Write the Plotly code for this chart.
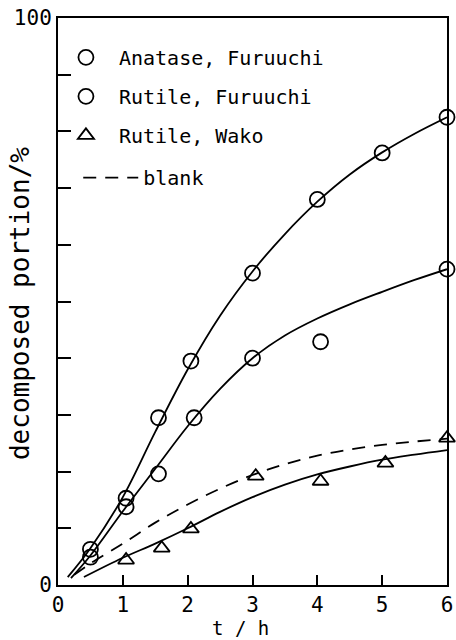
import plotly.graph_objects as go

# Measured decomposition (%) vs irradiation time t (h)
anatase_t = [0.5, 1.05, 1.55, 2.05, 3.0, 4.0, 5.0, 6.0]
anatase_pct = [6.3, 15.3, 29.5, 39.5, 55.0, 68.0, 76.2, 82.5]

rutile_f_t = [0.5, 1.05, 1.55, 2.1, 3.0, 4.05, 6.0]
rutile_f_pct = [4.9, 13.8, 19.6, 29.5, 40.0, 42.9, 55.7]

rutile_w_t = [1.05, 1.6, 2.05, 3.05, 4.05, 5.05, 6.0]
rutile_w_pct = [4.4, 6.5, 9.9, 19.2, 18.3, 21.5, 25.9]

# Hand-drawn smooth curves through the measurements
anatase_curve_t = [0.15, 0.5, 1.0, 1.5, 2.0, 2.5, 3.0, 3.5, 4.0, 4.5, 5.0, 5.5, 6.0]
anatase_curve_pct = [1.4, 6.5, 15.5, 27.0, 38.0, 47.5, 55.3, 61.9, 67.6, 72.4, 76.3, 79.6, 82.5]

rutile_f_curve_t = [0.2, 0.5, 1.0, 1.5, 2.0, 2.5, 3.0, 3.5, 4.0, 4.5, 5.0, 5.5, 6.0]
rutile_f_curve_pct = [1.2, 5.2, 13.0, 20.5, 28.0, 34.6, 40.0, 44.0, 47.0, 49.5, 51.7, 53.8, 55.7]

rutile_w_curve_t = [0.4, 1.0, 1.5, 2.0, 2.5, 3.0, 3.5, 4.0, 4.5, 5.0, 5.5, 6.0]
rutile_w_curve_pct = [1.4, 4.8, 7.3, 10.0, 12.9, 15.5, 17.7, 19.5, 20.9, 22.1, 23.0, 23.8]

blank_t = [0.25, 0.5, 1.0, 1.5, 2.0, 2.5, 3.0, 3.5, 4.0, 4.5, 5.0, 5.5, 6.0]
blank_pct = [1.8, 3.8, 7.3, 11.0, 14.2, 17.0, 19.4, 21.3, 22.8, 23.9, 24.7, 25.3, 25.8]

x_ticks = [0, 1, 2, 3, 4, 5, 6]
y_ticks = [0, 10, 20, 30, 40, 50, 60, 70, 80, 90, 100]
y_tick_text = ["0", "", "", "", "", "", "", "", "", "", "100"]

FONT = "DejaVu Sans Mono"
INK = "black"

fig = go.Figure()

curve_line = dict(color=INK, width=1.8, shape="spline", smoothing=1)
for cx, cy in [(anatase_curve_t, anatase_curve_pct),
               (rutile_f_curve_t, rutile_f_curve_pct),
               (rutile_w_curve_t, rutile_w_curve_pct)]:
    fig.add_trace(go.Scatter(x=cx, y=cy, mode="lines", line=curve_line,
                             showlegend=False, hoverinfo="skip"))

circle = dict(symbol="circle-open", size=15, color=INK, line=dict(width=1.8, color=INK))
triangle = dict(symbol="triangle-up-open", size=14, color=INK, line=dict(width=1.8, color=INK))

fig.add_trace(go.Scatter(x=anatase_t, y=anatase_pct, mode="markers", marker=circle,
                         name="Anatase, Furuuchi", legendgroup="a", cliponaxis=False))
fig.add_trace(go.Scatter(x=rutile_f_t, y=rutile_f_pct, mode="markers", marker=circle,
                         name="Rutile, Furuuchi", legendgroup="b", cliponaxis=False))
fig.add_trace(go.Scatter(x=rutile_w_t, y=rutile_w_pct, mode="markers", marker=triangle,
                         name="Rutile, Wako", legendgroup="c", cliponaxis=False))
fig.add_trace(go.Scatter(x=blank_t, y=blank_pct, mode="lines",
                         line=dict(color=INK, width=1.8, dash="13px,9px",
                                   shape="spline", smoothing=1),
                         name="blank", legend="legend2"))

axis_common = dict(
    showgrid=False, zeroline=False, showline=True, linecolor=INK, linewidth=2,
    mirror=True, ticks="inside", tickcolor=INK, tickwidth=1.8,
    tickfont=dict(family=FONT, size=21, color=INK),
)

fig.update_xaxes(range=[0, 6], tickvals=x_ticks, ticklen=10, **axis_common)
fig.update_yaxes(range=[0, 100], tickvals=y_ticks, ticktext=y_tick_text,
                 ticklen=13, **axis_common)

fig.add_annotation(text="decomposed portion/%", textangle=-90,
                   xref="paper", yref="paper", x=-0.098, y=0.497,
                   xanchor="center", yanchor="middle", showarrow=False,
                   font=dict(family=FONT, size=26, color=INK))
fig.add_annotation(text="t / h", xref="paper", yref="paper", x=0.47, y=-0.075,
                   xanchor="center", yanchor="middle", showarrow=False,
                   font=dict(family=FONT, size=19, color=INK))

legend_font = dict(family=FONT, size=20, color=INK)
fig.update_layout(
    width=456, height=640,
    margin=dict(l=58, r=9, t=18, b=55, autoexpand=False),
    paper_bgcolor="white", plot_bgcolor="white",
    legend=dict(x=-0.013, y=0.965, xanchor="left", yanchor="top",
                bgcolor="rgba(0,0,0,0)", borderwidth=0, tracegroupgap=10,
                itemwidth=56, font=legend_font),
    legend2=dict(x=0.052, y=0.753, xanchor="left", yanchor="top",
                 bgcolor="rgba(0,0,0,0)", borderwidth=0,
                 itemwidth=55, font=legend_font),
    font=dict(family=FONT, color=INK),
)

fig.write_html("out.html")
